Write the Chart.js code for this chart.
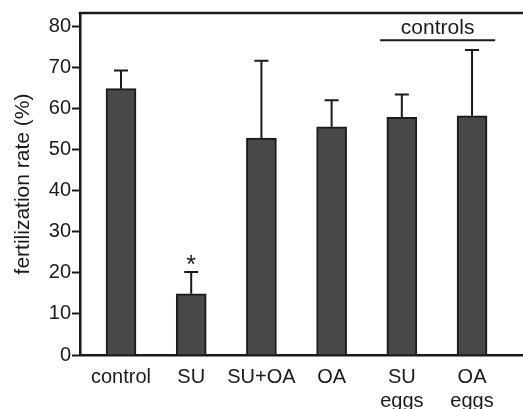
<!DOCTYPE html>
<html>
<head>
<meta charset="utf-8">
<script src="https://cdn.jsdelivr.net/npm/chart.js@4/dist/chart.umd.min.js"></script>
<style>
  html, body { margin: 0; padding: 0; background: #fff; }
  #wrap { width: 523px; height: 409px; position: relative; }
</style>
</head>
<body>
<div id="wrap"><canvas id="c" width="523" height="409"></canvas></div>
<script>
// ---- data ----
const categories = ['control', 'SU', 'SU+OA', 'OA', ['SU', 'eggs'], ['OA', 'eggs']];
const meanValues = [64.8, 14.9, 52.8, 55.5, 57.8, 58.2];
const errorTops = [69.2, 20.2, 71.6, 62.0, 63.4, 74.2];
const significant = [false, true, false, false, false, false];
const yTickValues = [0, 10, 20, 30, 40, 50, 60, 70, 80];
const groupLabel = 'controls';
const groupMembers = [4, 5];
const yAxisTitle = 'fertilization rate (%)';

const INK = '#1a1a1a';
const FONT = "'Liberation Sans', Arial, sans-serif";

const extras = {
  id: 'extras',
  afterDatasetsDraw(chart) {
    const ctx = chart.ctx;
    const xs = chart.scales.x, ys = chart.scales.y;
    const area = chart.chartArea;
    ctx.save();
    // top frame line
    ctx.strokeStyle = INK;
    ctx.lineWidth = 2.5;
    ctx.beginPath();
    ctx.moveTo(area.left - 1.25, area.top);
    ctx.lineTo(area.right, area.top);
    ctx.stroke();
    // error bars
    ctx.lineWidth = 2;
    meanValues.forEach((m, i) => {
      const x = xs.getPixelForValue(i);
      const yb = ys.getPixelForValue(m);
      const yt = ys.getPixelForValue(errorTops[i]);
      ctx.beginPath();
      ctx.moveTo(x, yb);
      ctx.lineTo(x, yt);
      ctx.moveTo(x - 7, yt);
      ctx.lineTo(x + 7, yt);
      ctx.stroke();
      if (significant[i]) {
        ctx.fillStyle = INK;
        ctx.font = '25px ' + FONT;
        ctx.textAlign = 'center';
        ctx.textBaseline = 'alphabetic';
        ctx.fillText('*', x, yt + 1);
      }
    });
    // group bracket
    const x0 = xs.getPixelForValue(groupMembers[0] - 0.31);
    const x1 = xs.getPixelForValue(groupMembers[groupMembers.length - 1] + 0.33);
    const yl = ys.getPixelForValue(76.6);
    ctx.lineWidth = 2;
    ctx.beginPath();
    ctx.moveTo(x0, yl);
    ctx.lineTo(x1, yl);
    ctx.stroke();
    ctx.fillStyle = INK;
    ctx.font = '21px ' + FONT;
    ctx.textAlign = 'center';
    ctx.textBaseline = 'alphabetic';
    ctx.fillText(groupLabel, (x0 + x1) / 2, ys.getPixelForValue(78.1));
    ctx.restore();
  }
};

new Chart(document.getElementById('c'), {
  type: 'bar',
  data: {
    datasets: [{
      data: meanValues.map((v, i) => ({ x: i, y: v })),
      backgroundColor: '#484848',
      borderColor: INK,
      borderWidth: 2,
      barThickness: 30
    }]
  },
  options: {
    responsive: false,
    animation: false,
    devicePixelRatio: 1,
    layout: { padding: { top: 11, right: 0, left: 0, bottom: 0 } },
    plugins: { legend: { display: false }, tooltip: { enabled: false } },
    scales: {
      x: {
        type: 'linear',
        offset: false,
        min: -0.584,
        max: 5.726,
        afterBuildTicks: s => { s.ticks = categories.map((c, i) => ({ value: i })); },
        afterFit: s => { s.height = 54; },
        grid: { drawOnChartArea: false, drawTicks: false },
        border: { display: true, color: INK, width: 2.5 },
        ticks: {
          autoSkip: false,
          maxRotation: 0,
          padding: 10,
          color: INK,
          font: { family: FONT, size: 20 },
          callback: v => categories[v]
        }
      },
      y: {
        min: 0,
        max: 83.2,
        afterBuildTicks: s => { s.ticks = yTickValues.map(v => ({ value: v })); },
        afterFit: s => { s.width = 80; },
        grid: { drawOnChartArea: false, drawTicks: true, tickLength: 8, tickWidth: 2, tickColor: INK },
        border: { display: true, color: INK, width: 2.5 },
        ticks: {
          padding: 1,
          color: INK,
          font: { family: FONT, size: 20 }
        },
        title: {
          display: true,
          text: yAxisTitle,
          color: INK,
          font: { family: FONT, size: 21 },
          padding: { top: 11, bottom: 0 }
        }
      }
    }
  },
  plugins: [extras]
});
</script>
</body>
</html>
